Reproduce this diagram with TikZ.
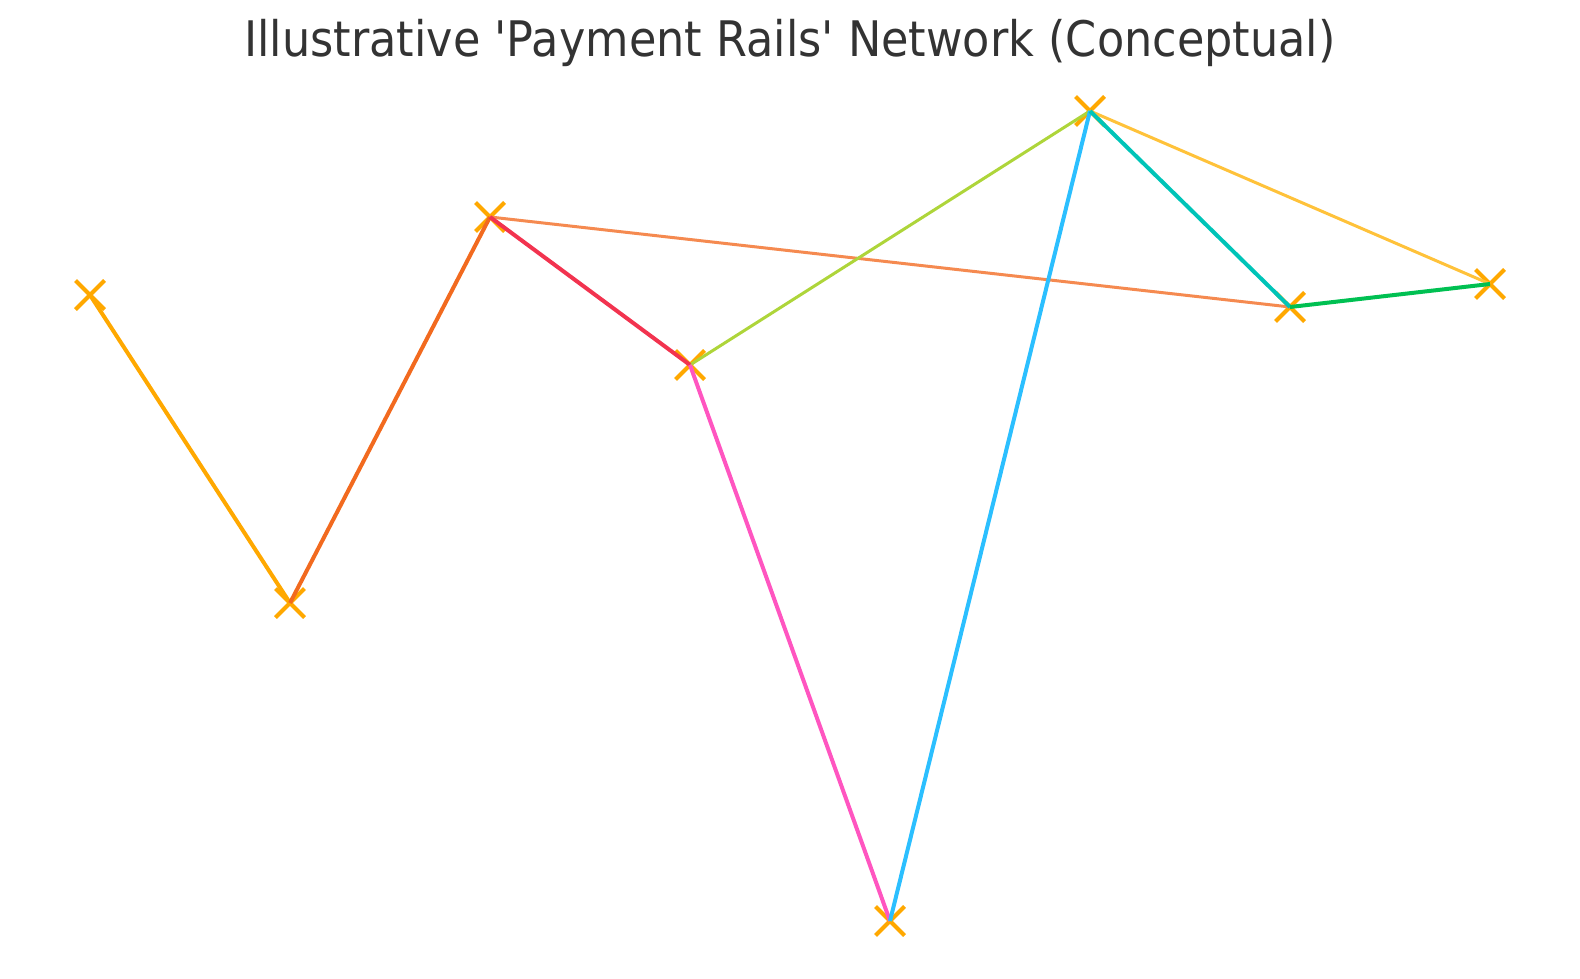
\documentclass[tikz,border=0pt]{standalone}
\usepackage{fontspec}
\setmainfont{DejaVu Sans}
\usetikzlibrary{shapes.misc}
\definecolor{mk}{HTML}{FFA800}
\definecolor{titlec}{HTML}{333333}
\definecolor{e12}{HTML}{FFA800}
\definecolor{e23}{HTML}{F26A1F}
\definecolor{e34}{HTML}{F2334F}
\definecolor{e45}{HTML}{FF55C0}
\definecolor{e56}{HTML}{2BBFFF}
\definecolor{e67}{HTML}{00C4B8}
\definecolor{e78}{HTML}{00C052}
\definecolor{e37}{HTML}{F58A50}
\definecolor{e46}{HTML}{AED53A}
\definecolor{e68}{HTML}{FFC23A}
\begin{document}
\begin{tikzpicture}[x=0.5pt,y=-0.5pt,
  marker/.style={cross out, draw=mk, line width=2pt, minimum size=12.5pt, inner sep=0pt},
  thick edge/.style={line width=2pt},
  thin edge/.style={line width=1.5pt}]
\useasboundingbox (0,0) rectangle (1580,979);
\node[marker] (p1) at (90,295) {};
\node[marker] (p2) at (290,603) {};
\node[marker] (p3) at (490,217) {};
\node[marker] (p4) at (690,365) {};
\node[marker] (p5) at (890,921) {};
\node[marker] (p6) at (1090,111) {};
\node[marker] (p7) at (1290,307) {};
\node[marker] (p8) at (1490,284) {};
\draw[thin edge, e37] (p3.center) -- (p7.center);
\draw[thin edge, e46] (p4.center) -- (p6.center);
\draw[thin edge, e68] (p6.center) -- (p8.center);
\draw[thick edge, e12] (p1.center) -- (p2.center);
\draw[thick edge, e23] (p2.center) -- (p3.center);
\draw[thick edge, e34] (p3.center) -- (p4.center);
\draw[thick edge, e45] (p4.center) -- (p5.center);
\draw[thick edge, e56] (p5.center) -- (p6.center);
\draw[thick edge, e67] (p6.center) -- (p7.center);
\draw[thick edge, e78] (p7.center) -- (p8.center);
\node[anchor=base, text=titlec, font=\fontsize{24.5pt}{30pt}\selectfont, inner sep=0pt, xscale=0.91] (title) at (790,57) {Illustrative \textquotesingle Payment Rails\textquotesingle{} Network (Conceptual)};
\end{tikzpicture}
\end{document}
